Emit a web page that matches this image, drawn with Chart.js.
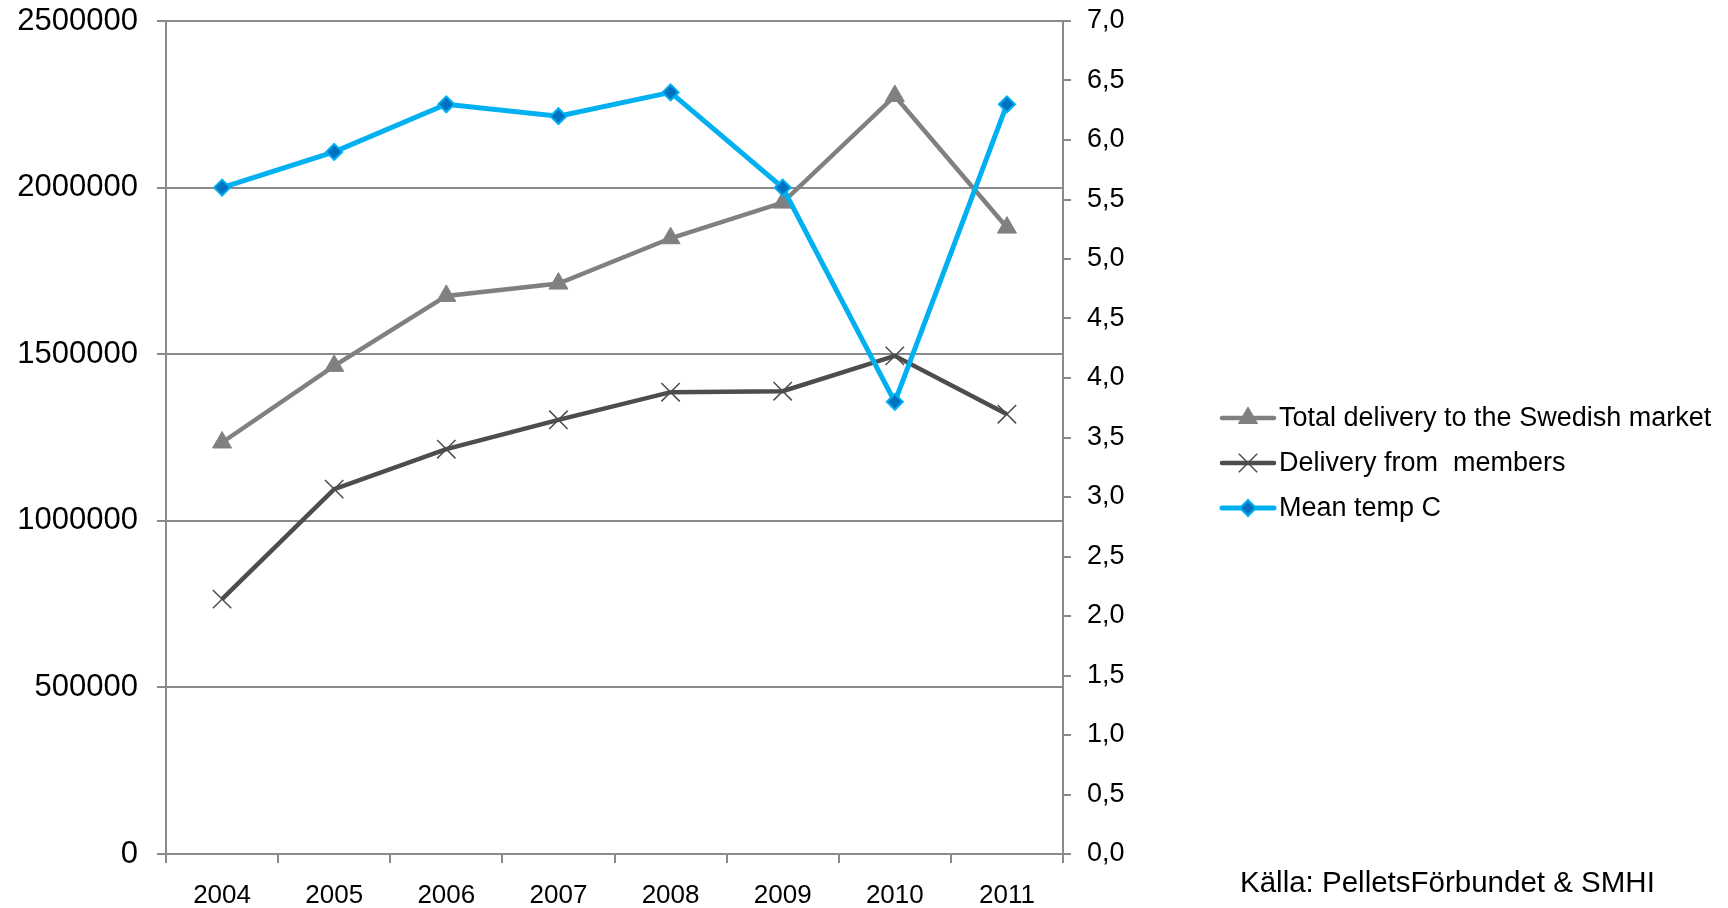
<!DOCTYPE html>
<html>
<head>
<meta charset="utf-8">
<title>Pellets delivery and mean temperature</title>
<script src="https://cdn.jsdelivr.net/npm/chart.js@4.4.1/dist/chart.umd.min.js"></script>
<style>
  html, body { margin: 0; padding: 0; background: #fff; }
  #wrap { width: 1728px; height: 908px; position: relative; }
</style>
</head>
<body>
<div id="wrap"><canvas id="pelletsChart"></canvas></div>
<script>
const years = ['2004', '2005', '2006', '2007', '2008', '2009', '2010', '2011'];
const totalDelivery = [1235000, 1465000, 1675000, 1712000, 1848000, 1955000, 2275000, 1880000];
const memberDelivery = [765000, 1095000, 1215000, 1303000, 1386000, 1389000, 1495000, 1320000];
const meanTemp = [5.6, 5.9, 6.3, 6.2, 6.4, 5.6, 3.8, 6.3];

const seriesNames = ['Total delivery to the Swedish market', 'Delivery from  members', 'Mean temp C'];
const sourceNote = 'Källa: PelletsFörbundet & SMHI';

const FONT = '"Liberation Sans", Arial, sans-serif';
const AXIS_GREY = '#8a8a8a';

// legend on the right, line + marker + text, plus the source line under it
const sideLegend = {
  id: 'sideLegend',
  afterDraw(chart) {
    const ctx = chart.ctx;
    const rows = [418, 463, 508];
    ctx.save();
    chart.data.datasets.forEach((ds, i) => {
      const y = rows[i];
      ctx.strokeStyle = ds.borderColor;
      ctx.lineWidth = ds.borderWidth;
      ctx.lineCap = 'round';
      ctx.beginPath();
      ctx.moveTo(1222, y);
      ctx.lineTo(1274, y);
      ctx.stroke();
      ctx.fillStyle = ds.pointBackgroundColor;
      ctx.strokeStyle = ds.pointBorderColor;
      ctx.lineWidth = ds.pointBorderWidth;
      ctx.lineCap = 'butt';
      Chart.helpers.drawPoint(ctx, {
        pointStyle: ds.pointStyle,
        radius: ds.pointRadius,
        borderWidth: ds.pointBorderWidth,
        rotation: 0
      }, 1248, y);
      ctx.fillStyle = '#000';
      ctx.font = '27px ' + FONT;
      ctx.textBaseline = 'middle';
      ctx.textAlign = 'left';
      ctx.fillText(ds.label, 1279, y + 1);
    });
    ctx.font = '29.5px ' + FONT;
    ctx.fillStyle = '#000';
    ctx.textBaseline = 'middle';
    ctx.fillText(sourceNote, 1240, 884);
    ctx.restore();
  }
};

// keep the value axes from reserving extra room above/below the plot
function trimVerticalPadding(scale) {
  scale.paddingTop = 0;
  scale.paddingBottom = 0;
}

const data = {
  labels: years,
  datasets: [
    {
      label: seriesNames[0],
      data: totalDelivery,
      yAxisID: 'y',
      borderColor: '#808080',
      borderWidth: 4.5,
      pointStyle: 'triangle',
      pointRadius: 11,
      pointBackgroundColor: '#808080',
      pointBorderColor: '#808080',
      pointBorderWidth: 1,
      order: 2
    },
    {
      label: seriesNames[1],
      data: memberDelivery,
      yAxisID: 'y',
      borderColor: '#4d4d4d',
      borderWidth: 4.5,
      pointStyle: 'crossRot',
      pointRadius: 13,
      pointBackgroundColor: '#4d4d4d',
      pointBorderColor: '#4d4d4d',
      pointBorderWidth: 1.5,
      order: 1
    },
    {
      label: seriesNames[2],
      data: meanTemp,
      yAxisID: 'y1',
      borderColor: '#00b0f0',
      borderWidth: 5,
      pointStyle: 'rectRot',
      pointRadius: 8,
      pointBackgroundColor: '#0070c0',
      pointBorderColor: '#00b0f0',
      pointBorderWidth: 2,
      order: 0
    }
  ]
};

const config = {
  type: 'line',
  data: data,
  options: {
    responsive: true,
    maintainAspectRatio: false,
    animation: false,
    layout: {
      padding: { top: 21, right: 545, bottom: 0, left: 0 }
    },
    elements: {
      line: { tension: 0 }
    },
    scales: {
      x: {
        offset: true,
        afterFit(scale) { scale.height = 54; },
        grid: {
          offset: true,
          drawOnChartArea: false,
          drawTicks: true,
          tickLength: 9,
          color: AXIS_GREY,
          lineWidth: 2
        },
        border: { color: AXIS_GREY, width: 2 },
        ticks: {
          color: '#000',
          padding: 17,
          maxRotation: 0,
          font: { family: FONT, size: 26 }
        }
      },
      y: {
        position: 'left',
        min: 0,
        max: 2500000,
        afterFit(scale) {
          scale.width = 166;
          trimVerticalPadding(scale);
        },
        grid: {
          color: AXIS_GREY,
          lineWidth: 2,
          tickLength: 9
        },
        border: { color: AXIS_GREY, width: 2 },
        ticks: {
          stepSize: 500000,
          color: '#000',
          padding: 19,
          font: { family: FONT, size: 31 },
          callback: (value) => String(value)
        }
      },
      y1: {
        position: 'right',
        min: 0,
        max: 7,
        afterFit(scale) {
          scale.width = 120;
          trimVerticalPadding(scale);
        },
        grid: {
          drawOnChartArea: false,
          color: AXIS_GREY,
          lineWidth: 2,
          tickLength: 8
        },
        border: { color: AXIS_GREY, width: 2 },
        ticks: {
          stepSize: 0.5,
          color: '#000',
          padding: 16,
          font: { family: FONT, size: 27 },
          callback: (value) => value.toFixed(1).replace('.', ',')
        }
      }
    },
    plugins: {
      legend: { display: false },
      tooltip: { enabled: false }
    }
  },
  plugins: [sideLegend]
};

const pelletsChart = new Chart(document.getElementById('pelletsChart'), config);
</script>
</body>
</html>
